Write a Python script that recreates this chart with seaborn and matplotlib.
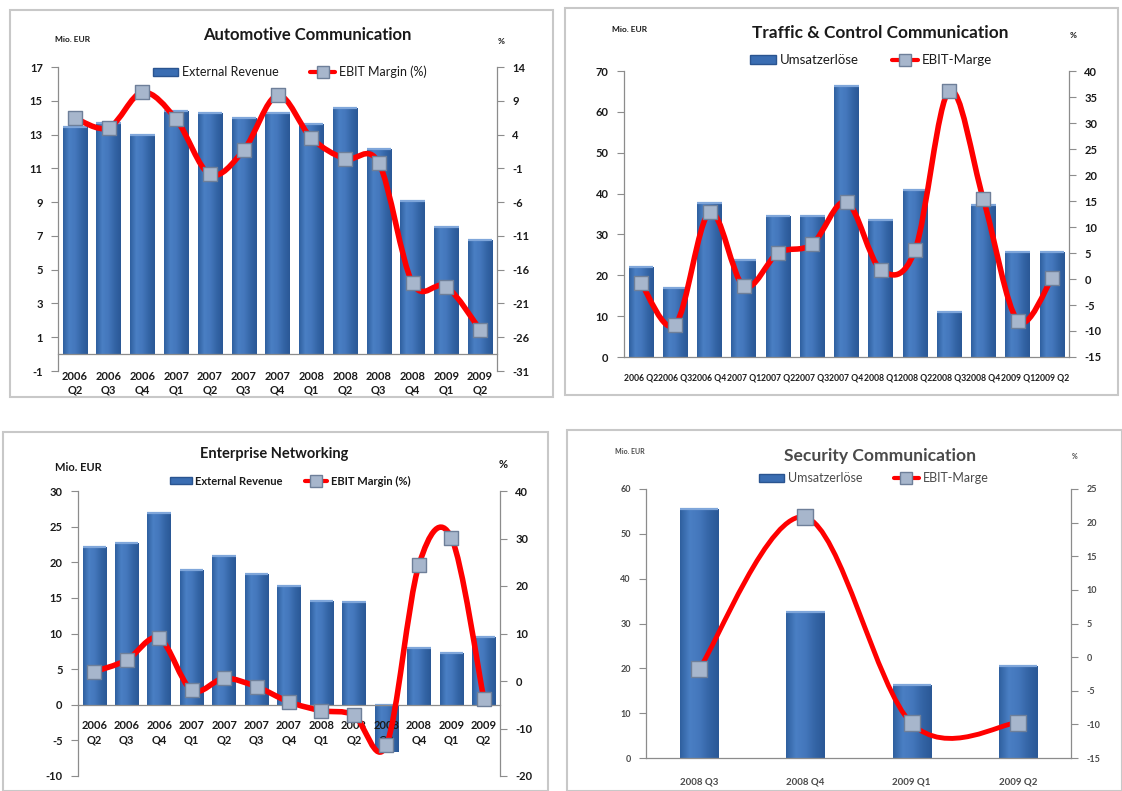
import numpy as np
import pandas as pd
import matplotlib
matplotlib.use("Agg")
import matplotlib.pyplot as plt
import seaborn as sns
from matplotlib.path import Path
from matplotlib.patches import PathPatch, Patch, Rectangle
from matplotlib.lines import Line2D
from matplotlib.colors import LinearSegmentedColormap

sns.set_theme(style="white")
plt.rcParams["font.family"] = ["Lato", "DejaVu Sans"]

# ---------------- data ----------------
quarters = ["2006 Q2", "2006 Q3", "2006 Q4", "2007 Q1", "2007 Q2", "2007 Q3", "2007 Q4",
            "2008 Q1", "2008 Q2", "2008 Q3", "2008 Q4", "2009 Q1", "2009 Q2"]
sec_quarters = ["2008 Q3", "2008 Q4", "2009 Q1", "2009 Q2"]

auto_revenue = [13.45, 13.7, 13.0, 14.4, 14.26, 14.0, 14.26, 13.65, 14.55, 12.17, 9.07, 7.53, 6.73]
auto_margin = [6.45, 5.0, 10.25, 6.25, -1.9, 1.7, 9.8, 3.5, 0.4, -0.2, -18.0, -18.5, -24.9]

traffic_revenue = [22.1, 17.0, 37.6, 23.7, 34.6, 34.4, 66.3, 33.5, 40.8, 10.9, 37.3, 25.8, 25.8]
traffic_margin = [-0.8, -8.8, 12.8, -1.4, 5.0, 6.7, 14.8, 1.8, 5.5, 36.2, 15.3, -8.0, 0.1]

ent_revenue = [22.15, 22.76, 26.9, 18.9, 20.9, 18.4, 16.7, 14.5, 14.4, -6.6, 8.0, 7.3, 9.5]
ent_margin = [1.95, 4.4, 9.0, -1.9, 0.55, -1.2, -4.4, -6.25, -7.2, -13.5, 24.4, 30.2, -3.7]

sec_revenue = [55.6, 32.6, 16.2, 20.5]
sec_margin = [-1.8, 20.8, -9.85, -9.75]

W, H = 1122, 791
fig = plt.figure(figsize=(W / 100, H / 100), dpi=100)
fig.patch.set_facecolor("white")

grad_cmap = LinearSegmentedColormap.from_list(
    "bar", ["#2F609F", "#4A7FC4", "#4477BC", "#3465A6", "#2A5896"])


def frect(x0, y0, x1, y1):
    return [x0 / W, 1 - y1 / H, (x1 - x0) / W, (y1 - y0) / H]


def smooth_path(xs, ys):
    P = np.column_stack([xs, ys]).astype(float)
    n = len(P)
    verts = [P[0]]
    codes = [Path.MOVETO]
    for i in range(n - 1):
        p0 = P[i - 1] if i > 0 else P[i]
        p1 = P[i]
        p2 = P[i + 1]
        p3 = P[i + 2] if i + 2 < n else P[i + 1]
        verts += [p1 + (p2 - p0) / 6, p2 - (p3 - p1) / 6, p2]
        codes += [Path.CURVE4] * 3
    return Path(verts, codes)


def panel(frame, area, cats, xlabels, rev, mar, ylim, yticks, y2lim, y2ticks,
          title, title_xy, title_size, leg_names, leg_xy, leg_size, leg_weight,
          unit_xy, unit_size, pct_xy, bar_w, xlab_size, xlab_pad, tick_size,
          txt="#1A1A1A", lw=4.0, msize=110, colsp=2.5):
    x0, y0, x1, y1 = frame
    fig.patches.append(Rectangle((x0 / W, 1 - y1 / H), (x1 - x0) / W, (y1 - y0) / H,
                                 transform=fig.transFigure, fill=False,
                                 ec="#C8C8C8", lw=1.5, zorder=0))
    ax = fig.add_axes(frect(*area))
    ax.set_facecolor("none")
    n = len(cats)
    df = pd.DataFrame({"q": cats, "rev": rev})
    sns.barplot(data=df, x="q", y="rev", ax=ax, color="#3A6DB2", width=bar_w,
                saturation=1, order=cats, zorder=2)
    ax.set_xlim(-0.5, n - 0.5)
    ax.set_ylim(*ylim)
    grad = np.linspace(0, 1, 64).reshape(1, -1)
    for p in list(ax.patches):
        bx, by = p.get_x(), p.get_y()
        bw, bh = p.get_width(), p.get_height()
        lo, hi = min(by, by + bh), max(by, by + bh)
        im = ax.imshow(grad, cmap=grad_cmap, aspect="auto", vmin=0, vmax=1,
                       extent=[bx, bx + bw, lo, hi], zorder=2.1,
                       interpolation="bilinear")
        im.set_clip_path(p)
        ax.plot([bx, bx + bw], [hi, hi], color="#7FA6DA", lw=1.6, zorder=2.2,
                solid_capstyle="butt")
    ax.set_xlabel("")
    ax.set_ylabel("")
    ax.set_axisbelow(False)
    ax.spines["top"].set_visible(False)
    ax.spines["right"].set_visible(False)
    ax.spines["bottom"].set_position(("data", 0))
    for s in ("left", "bottom"):
        ax.spines[s].set_color("#8C8C8C")
        ax.spines[s].set_linewidth(0.9)
    ax.spines["bottom"].set_zorder(3)
    ax.grid(False)

    ax2 = ax.twinx()
    xs = np.arange(n)
    ax2.add_patch(PathPatch(smooth_path(xs, mar), fill=False, ec="#FF0000",
                            lw=lw, capstyle="round", joinstyle="round", zorder=3))
    sns.scatterplot(x=xs, y=mar, ax=ax2, marker="s", s=msize, color="#A7B6CC",
                    edgecolor="#6E7F99", linewidth=1.0, zorder=4, legend=False)
    ax2.set_ylim(*y2lim)
    ax2.set_ylabel("")
    for s in ("top", "left", "bottom"):
        ax2.spines[s].set_visible(False)
    ax2.spines["right"].set_color("#8C8C8C")
    ax2.spines["right"].set_linewidth(0.9)
    ax2.grid(False)

    # ticks & labels (after twin so nothing resets them)
    ax.set_xlim(-0.5, n - 0.5)
    ax.set_ylim(*ylim)
    ax.set_yticks(yticks)
    ax.set_yticklabels([str(t) for t in yticks])
    ax.set_xticks(np.arange(n))
    ax.set_xticklabels(xlabels, linespacing=1.35)
    ax.set_xticks(np.arange(-0.5, n, 1.0), minor=True)
    ax.tick_params(axis="x", which="major", length=0, pad=xlab_pad,
                   labelsize=xlab_size, labelcolor=txt)
    ax.tick_params(axis="x", which="minor", length=6, direction="inout",
                   color="#8C8C8C", width=0.8)
    ax.tick_params(axis="y", length=5, direction="out", color="#8C8C8C",
                   width=0.8, pad=6, left=True, labelsize=tick_size, labelcolor=txt)
    ax2.set_yticks(y2ticks)
    ax2.set_yticklabels([str(t) for t in y2ticks])
    ax2.tick_params(axis="y", length=5, direction="out", color="#8C8C8C",
                    width=0.8, pad=6, right=True, labelsize=tick_size, labelcolor=txt)
    ax2.set_ylim(*y2lim)
    for t in ax.get_xticklabels() + ax.get_yticklabels() + ax2.get_yticklabels():
        t.set_fontweight("bold")

    fig.text(title_xy[0] / W, 1 - title_xy[1] / H, title, ha="center", va="center",
             fontsize=title_size, fontweight="bold", color=txt)
    fig.text(unit_xy[0] / W, 1 - unit_xy[1] / H, "Mio. EUR", ha="left", va="center",
             fontsize=unit_size, fontweight="bold", color=txt)
    fig.text(pct_xy[0] / W, 1 - pct_xy[1] / H, "%", ha="center", va="center",
             fontsize=unit_size, fontweight="bold", color=txt)
    handles = [Patch(facecolor="#3A6DB2", edgecolor="#2A5490"),
               Line2D([], [], color="#FF0000", lw=3, marker="s", markersize=8,
                      markerfacecolor="#A7B6CC", markeredgecolor="#6E7F99")]
    fig.legend(handles, leg_names, loc="center",
               bbox_to_anchor=(leg_xy[0] / W, 1 - leg_xy[1] / H), ncol=2,
               frameon=False, handlelength=2.0, handleheight=0.6,
               handletextpad=0.3, columnspacing=colsp,
               prop={"size": leg_size, "weight": leg_weight}, labelcolor=txt)
    return ax, ax2


two_line = [q.replace(" ", "\n") for q in quarters]

# Panel 1: Automotive Communication
panel(frame=(10, 10, 553, 397), area=(58, 67, 497, 371), cats=quarters,
      xlabels=two_line, rev=auto_revenue, mar=auto_margin,
      ylim=(-1, 17), yticks=list(range(-1, 18, 2)),
      y2lim=(-31, 14), y2ticks=list(range(-31, 15, 5)),
      title="Automotive Communication", title_xy=(307, 35), title_size=12,
      leg_names=["External Revenue", "EBIT Margin (%)"], leg_xy=(290, 72),
      leg_size=9, leg_weight="normal", unit_xy=(55, 40), unit_size=6,
      pct_xy=(501, 41), bar_w=0.72, xlab_size=8, xlab_pad=12, tick_size=8)

# Panel 2: Traffic & Control Communication
panel(frame=(565, 8, 1118, 395), area=(624, 71, 1069, 357), cats=quarters,
      xlabels=quarters, rev=traffic_revenue, mar=traffic_margin,
      ylim=(0, 70), yticks=list(range(0, 71, 10)),
      y2lim=(-15, 40), y2ticks=list(range(-15, 41, 5)),
      title="Traffic & Control Communication", title_xy=(880, 33), title_size=12.4,
      leg_names=["Umsatzerlöse", "EBIT-Marge"], leg_xy=(871, 60),
      leg_size=9.5, leg_weight="normal", unit_xy=(612, 30), unit_size=6,
      pct_xy=(1073, 36), bar_w=0.72, xlab_size=6.2, xlab_pad=12, tick_size=8)

# Panel 3: Enterprise Networking
panel(frame=(3, 432, 548, 791), area=(78, 491, 500, 776), cats=quarters,
      xlabels=two_line, rev=ent_revenue, mar=ent_margin,
      ylim=(-10, 30), yticks=list(range(-10, 31, 5)),
      y2lim=(-20, 40), y2ticks=list(range(-20, 41, 10)),
      title="Enterprise Networking", title_xy=(274, 454), title_size=10.5,
      leg_names=["External Revenue", "EBIT Margin (%)"], leg_xy=(290, 481),
      leg_size=8, leg_weight="bold", unit_xy=(55, 467), unit_size=8,
      pct_xy=(503, 465), bar_w=0.72, xlab_size=8, xlab_pad=11, tick_size=8,
      colsp=2.0)

# Panel 4: Security Communication
panel(frame=(567, 430, 1122, 791), area=(646, 489, 1071, 758), cats=sec_quarters,
      xlabels=sec_quarters, rev=sec_revenue, mar=sec_margin,
      ylim=(0, 60), yticks=list(range(0, 61, 10)),
      y2lim=(-15, 25), y2ticks=list(range(-15, 26, 5)),
      title="Security Communication", title_xy=(880, 456), title_size=12.6,
      leg_names=["Umsatzerlöse", "EBIT-Marge"], leg_xy=(874, 478),
      leg_size=9, leg_weight="normal", unit_xy=(615, 452), unit_size=5,
      pct_xy=(1075, 456), bar_w=0.36, xlab_size=7, xlab_pad=14, tick_size=6.5,
      txt="#4A4A4A", lw=3.5, msize=120)

fig.savefig("out.png", dpi=100, facecolor="white")
